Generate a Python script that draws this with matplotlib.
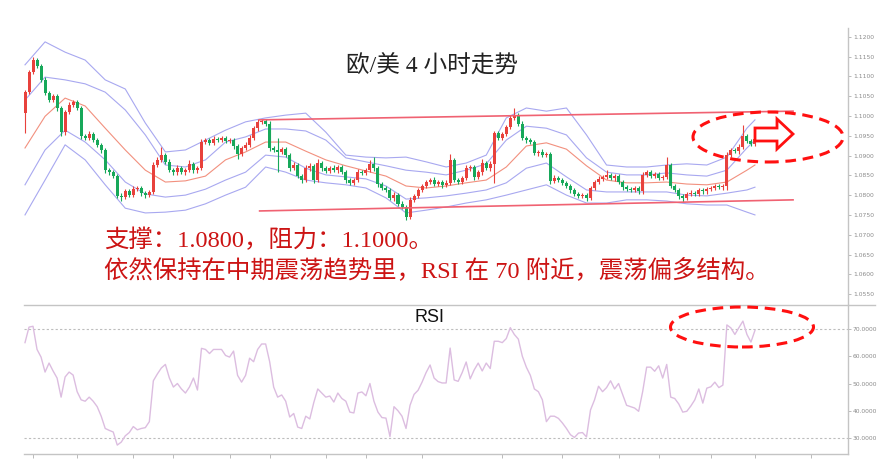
import matplotlib
matplotlib.use("Agg")
import matplotlib.pyplot as plt
from matplotlib.patches import Ellipse, Polygon
from matplotlib.lines import Line2D
import numpy as np

# ---- data (EUR/USD, 4h candles) ----
first_open = 1.1007
closes = [
    1.1060, 1.1111, 1.1141, 1.1126, 1.1091, 1.1058, 1.1040, 1.1050, 1.1020, 1.0959,
    1.1010, 1.1028, 1.1035, 1.1020, 1.0949, 1.0944, 1.0954, 1.0939, 1.0927, 1.0914,
    1.0863, 1.0858, 1.0848, 1.0798, 1.0795, 1.0810, 1.0800, 1.0815, 1.0818, 1.0805,
    1.0800, 1.0808, 1.0876, 1.0889, 1.0901, 1.0884, 1.0863, 1.0858, 1.0868, 1.0858,
    1.0863, 1.0879, 1.0863, 1.0868, 1.0934, 1.0939, 1.0932, 1.0942, 1.0939, 1.0944,
    1.0937, 1.0939, 1.0924, 1.0904, 1.0919, 1.0927, 1.0944, 1.0969, 1.0985, 1.0987,
    1.0980, 1.0919, 1.0914, 1.0909, 1.0916, 1.0901, 1.0868, 1.0876, 1.0848, 1.0838,
    1.0868, 1.0874, 1.0838, 1.0881, 1.0868, 1.0861, 1.0868, 1.0863, 1.0871, 1.0858,
    1.0838, 1.0831, 1.0838, 1.0858, 1.0856, 1.0863, 1.0879, 1.0868, 1.0828, 1.0818,
    1.0813, 1.0793, 1.0800, 1.0778, 1.0770, 1.0745, 1.0788, 1.0798, 1.0813, 1.0823,
    1.0833, 1.0838, 1.0828, 1.0833, 1.0826, 1.0831, 1.0889, 1.0838, 1.0833, 1.0843,
    1.0868, 1.0871, 1.0846, 1.0858, 1.0881, 1.0868, 1.0879, 1.0957, 1.0944, 1.0954,
    1.0972, 1.0995, 1.1002, 1.0980, 1.0944, 1.0939, 1.0934, 1.0906, 1.0909, 1.0901,
    1.0904, 1.0836, 1.0843, 1.0838, 1.0831, 1.0823, 1.0813, 1.0803, 1.0798, 1.0800,
    1.0793, 1.0818, 1.0833, 1.0841, 1.0846, 1.0851, 1.0843, 1.0848, 1.0833, 1.0820,
    1.0815, 1.0813, 1.0818, 1.0810, 1.0851, 1.0858, 1.0848, 1.0853, 1.0843, 1.0846,
    1.0876, 1.0823, 1.0813, 1.0798, 1.0793, 1.0803, 1.0805, 1.0803, 1.0813, 1.0810,
    1.0815, 1.0818, 1.0823, 1.0820, 1.0823, 1.0901, 1.0914, 1.0911, 1.0922, 1.0949,
    1.0937, 1.0929, 1.0942,
]
# wick lengths in pips above / below the body
wick_up = [
    6, 5, 8, 4, 5, 6, 5, 6, 5, 6,  5, 6, 4, 5, 6, 5, 8, 5, 6, 5,
    6, 5, 6, 5, 8, 6, 5, 7, 6, 5,  6, 5, 8, 6, 20, 5, 6, 5, 8, 5,
    6, 10, 5, 6, 8, 6, 5, 7, 5, 6,  5, 6, 5, 6, 5, 6, 7, 6, 8, 6,
    5, 6, 5, 30, 6, 5, 6, 8, 5, 6,  7, 6, 5, 10, 6, 5, 6, 8, 5, 6,
    5, 6, 5, 8, 6, 5, 10, 16, 5, 6,  5, 6, 8, 5, 6, 5, 6, 5, 6, 5,
    6, 5, 8, 6, 5, 6, 14, 5, 6, 5,  8, 6, 5, 6, 10, 5, 6, 5, 6, 5,
    6, 8, 18, 5, 6, 5, 6, 5, 6, 8,  5, 6, 8, 5, 6, 5, 6, 5, 6, 5,
    6, 5, 6, 8, 5, 12, 6, 5, 6, 5,  6, 5, 6, 5, 8, 6, 5, 6, 5, 6,
    20, 5, 6, 5, 6, 5, 8, 6, 5, 6,  5, 6, 5, 6, 5, 8, 6, 5, 6, 28,
    6, 5, 8,
]
wick_dn = [
    50, 5, 6, 5, 6, 5, 6, 5, 8, 10,  6, 5, 6, 5, 8, 6, 5, 6, 5, 8,
    6, 8, 5, 6, 10, 6, 5, 6, 5, 6,  8, 6, 5, 6, 5, 6, 5, 8, 6, 5,
    6, 5, 8, 6, 5, 6, 5, 6, 5, 6,  6, 5, 8, 12, 6, 5, 6, 5, 6, 5,
    6, 8, 6, 50, 5, 6, 8, 5, 6, 8,  5, 6, 8, 5, 6, 5, 6, 5, 6, 5,
    8, 6, 5, 6, 5, 6, 5, 6, 8, 6,  6, 5, 8, 6, 5, 8, 6, 5, 6, 5,
    5, 6, 5, 6, 8, 6, 5, 6, 5, 6,  5, 6, 8, 5, 6, 5, 6, 48, 5, 6,
    5, 6, 5, 6, 5, 8, 6, 5, 6, 5,  6, 8, 5, 6, 5, 6, 8, 6, 5, 6,
    8, 5, 6, 5, 6, 5, 6, 8, 5, 6,  5, 6, 5, 8, 6, 5, 6, 5, 6, 5,
    6, 5, 6, 8, 10, 6, 5, 6, 5, 6,  6, 5, 6, 5, 8, 10, 6, 5, 6, 5,
    6, 5, 6,
]

# bollinger bands read every 5 candles
band_idx = list(range(0, 181, 5)) + [182]
band_ou = [1.1129, 1.1187, 1.1161, 1.1141, 1.1091, 1.1068, 1.0982, 1.0909, 1.0914, 1.0939,
           1.0964, 1.0985, 1.0995, 1.1002, 1.1007, 1.0959, 1.0901, 1.0896, 1.0894, 1.0896,
           1.0884, 1.0871, 1.0881, 1.0901, 1.0995, 1.1020, 1.1012, 1.1020, 1.0952, 1.0876,
           1.0871, 1.0871, 1.0876, 1.0879, 1.0876, 1.0896, 1.0969, 1.0990]
band_iu = [1.1040, 1.1098, 1.1091, 1.1081, 1.1060, 1.1015, 1.0952, 1.0876, 1.0871, 1.0889,
           1.0934, 1.0947, 1.0967, 1.0967, 1.0962, 1.0939, 1.0894, 1.0884, 1.0874, 1.0863,
           1.0858, 1.0851, 1.0863, 1.0879, 1.0939, 1.0974, 1.0969, 1.0952, 1.0894, 1.0858,
           1.0851, 1.0851, 1.0856, 1.0851, 1.0848, 1.0863, 1.0919, 1.0939]
band_mid = [1.0919, 1.0999, 1.1045, 1.1025, 1.0969, 1.0914, 1.0863, 1.0833, 1.0836, 1.0848,
            1.0889, 1.0909, 1.0934, 1.0934, 1.0911, 1.0889, 1.0874, 1.0861, 1.0848, 1.0823,
            1.0818, 1.0823, 1.0831, 1.0838, 1.0871, 1.0924, 1.0932, 1.0916, 1.0874, 1.0838,
            1.0831, 1.0831, 1.0833, 1.0828, 1.0826, 1.0833, 1.0863, 1.0876]
band_il = [1.0826, 1.0914, 1.0964, 1.0934, 1.0889, 1.0833, 1.0803, 1.0795, 1.0800, 1.0815,
           1.0838, 1.0858, 1.0901, 1.0896, 1.0868, 1.0851, 1.0846, 1.0841, 1.0823, 1.0790,
           1.0793, 1.0798, 1.0805, 1.0813, 1.0831, 1.0868, 1.0881, 1.0846, 1.0813, 1.0808,
           1.0808, 1.0808, 1.0808, 1.0800, 1.0798, 1.0805, 1.0813, 1.0820]
band_ol = [1.0750, 1.0838, 1.0927, 1.0889, 1.0826, 1.0767, 1.0755, 1.0757, 1.0762, 1.0778,
           1.0800, 1.0820, 1.0871, 1.0858, 1.0838, 1.0831, 1.0826, 1.0818, 1.0793, 1.0755,
           1.0762, 1.0770, 1.0780, 1.0788, 1.0800, 1.0813, 1.0826, 1.0800, 1.0780, 1.0780,
           1.0788, 1.0788, 1.0785, 1.0778, 1.0775, 1.0775, 1.0757, 1.0750]

# channel lines drawn on the chart
chan_x = [58.5, 191.5]
res_y = [1.0990, 1.1012]
sup_y = [1.0760, 1.0788]

rsi = [
    65, 70.7, 71, 62.5, 59.7, 54.2, 57.5, 54.6, 52, 45,
    52.4, 54.2, 53.1, 47, 44, 43.5, 45, 43.5, 41.5, 38,
    33.5, 32.8, 32.2, 27.4, 28.5, 30.8, 32, 34.2, 33, 33.5,
    33.8, 36, 51, 53.5, 55.7, 57, 52, 48.7, 50, 48,
    46.5, 48.7, 52, 47.6, 62.9, 62.5, 61, 62.5, 62.5, 62.5,
    60.3, 59.7, 61.9, 53, 50.5, 53, 59.3, 58, 62.5, 64.5,
    64.5, 58, 48.7, 45, 45.8, 43.5, 37.7, 39, 34, 33.5,
    38, 37, 43, 48, 46.5, 45, 45.4, 43.2, 46.5, 44.5,
    43.5, 39.5, 39.2, 46.5, 46.9, 45.5, 50, 43.5, 39.5, 37.5,
    37.3, 30.5, 41.5, 40, 38, 33.5, 42, 46, 47.5, 50.5,
    54, 56.8, 52, 50.7, 50.2, 50.2, 63, 51.3, 50.8, 54,
    57.9, 51.7, 55, 57.5, 54.6, 57.5, 55.5, 65.5, 65.5, 65,
    66.5, 70.5, 68, 66.3, 60, 56, 53, 48, 47, 44,
    36, 38, 38, 37.2, 35.5, 33.5, 31.2, 30.2, 31.8, 32,
    30.4, 40.3, 44, 49, 47, 48.5, 51, 48, 50, 46,
    42, 41.5, 41, 39.8, 47, 56, 56, 54.5, 56.5, 52,
    57, 45, 44.5, 42.5, 39.5, 39.8, 41.7, 44, 48, 42.8,
    48.3, 48.8, 50.5, 48.5, 49.4, 71.5, 70.4, 68, 70.5, 72.9,
    68, 65.2, 69.5,
]
date_ticks = [2, 13, 27, 37, 51, 61, 75, 85, 99, 119, 134, 148, 158, 171, 182, 196]
price_ticks = [1.055, 1.060, 1.065, 1.070, 1.075, 1.080, 1.085, 1.090, 1.095,
               1.100, 1.105, 1.110, 1.115, 1.120]
rsi_ticks = [30, 40, 50, 60, 70]

title = "欧/美 4 小时走势"
note1 = "支撑：1.0800，阻力：1.1000。"
note2 = "依然保持在中期震荡趋势里，RSI 在 70 附近，震荡偏多结构。"

W, H = 885, 463


def px(x, y):
    # pixel position of the reference picture -> figure fraction
    return x / W, 1 - y / H


fig = plt.figure(figsize=(W / 100, H / 100), dpi=100)
ax = fig.add_axes([24 / W, 1 - 305 / H, 824 / W, 277 / H])
ax2 = fig.add_axes([24 / W, 1 - 454 / H, 824 / W, 149 / H])

red = "#e8413c"
green = "#17a85a"
blue = "#a8a8f0"

o = np.array([first_open] + closes[:-1])
c = np.array(closes)
idx = np.arange(len(c))
hi = np.maximum(o, c) + np.array(wick_up) * 0.0001
lo = np.minimum(o, c) - np.array(wick_dn) * 0.0001
cols = np.where(c >= o, red, green)

for band in (band_ou, band_iu, band_il, band_ol):
    ax.plot(band_idx, band, color=blue, lw=0.8, zorder=2, solid_joinstyle="round")
ax.plot(band_idx, band_mid, color="#f2907e", lw=0.8, zorder=2, solid_joinstyle="round")

ax.vlines(idx, lo, hi, colors=cols, lw=0.8, zorder=3)
ax.bar(idx, np.maximum(np.abs(c - o), 0.00008), bottom=np.minimum(o, c),
       width=0.75, color=cols, linewidth=0, zorder=4)

ax.plot(chan_x, res_y, color="#f06272", lw=1.2, zorder=5)
ax.plot(chan_x, sup_y, color="#f06272", lw=1.2, zorder=5)

ax.set_xlim(-0.25, 205.2)
ax.set_ylim(1.05225, 1.1222)
ax.yaxis.tick_right()
ax.set_yticks(price_ticks)
ax.set_yticklabels([f"{v:.4f}" for v in price_ticks])
ax.set_xticks([])
ax.tick_params(axis="y", direction="out", length=2, width=0.6, color="#b0b0b0",
               labelsize=4.3, labelcolor="#8a8a8a", pad=1.5)
for s in ("top", "left", "bottom"):
    ax.spines[s].set_visible(False)
ax.spines["right"].set_color("#c4c4c4")
ax.spines["right"].set_linewidth(1.0)

# RSI panel
ax2.plot(idx, rsi, color="#dcbde0", lw=1.0, zorder=3)
ax2.axhline(70, color="#bdbdbd", lw=0.8, ls=(0, (2, 2)), zorder=1)
ax2.axhline(30, color="#bdbdbd", lw=0.8, ls=(0, (2, 2)), zorder=1)
ax2.set_xlim(-0.25, 205.2)
ax2.set_ylim(24.13, 78.81)
ax2.yaxis.tick_right()
ax2.set_yticks(rsi_ticks)
ax2.set_yticklabels([f"{v:.4f}" for v in rsi_ticks])
ax2.set_xticks(date_ticks)
ax2.set_xticklabels([])
ax2.tick_params(axis="y", direction="out", length=2, width=0.6, color="#b0b0b0",
                labelsize=4.3, labelcolor="#8a8a8a", pad=1.5)
ax2.tick_params(axis="x", direction="out", length=3, width=0.6, color="#b0b0b0")
ax2.spines["left"].set_visible(False)
ax2.spines["top"].set_visible(False)
for s in ("right", "bottom"):
    ax2.spines[s].set_color("#c4c4c4")
    ax2.spines[s].set_linewidth(1.0)

# separator between the panels, running past the price scale
fig.add_artist(Line2D([24 / W, 875 / W], [1 - 305 / H] * 2, transform=fig.transFigure,
                      color="#c4c4c4", lw=1.0))

# annotations
e1 = Ellipse(px(768, 137), 150 / W, 50 / H, transform=fig.transFigure, fill=False,
             edgecolor="#ff1010", lw=2.2, ls=(0, (3.5, 2.2)), zorder=10)
e2 = Ellipse(px(742, 327), 143 / W, 40 / H, transform=fig.transFigure, fill=False,
             edgecolor="#ff1010", lw=2.2, ls=(0, (3.5, 2.2)), zorder=10)
fig.add_artist(e1)
fig.add_artist(e2)
arrow_pts = [px(755, 128), px(777, 128), px(777, 119), px(793, 134),
             px(777, 149), px(777, 141), px(755, 141)]
fig.add_artist(Polygon(arrow_pts, closed=True, transform=fig.transFigure,
                       facecolor="white", edgecolor="#ff1010", lw=2.0, zorder=10))

cjk = ["Liberation Serif", "Noto Sans CJK SC"]
fig.text(*px(432, 66), title, ha="center", va="center", fontsize=17,
         family=cjk, color="#222222")
fig.text(*px(104, 240), note1, ha="left", va="center", fontsize=17.6,
         family=cjk, color="#cc1414")
fig.text(*px(104, 270), note2, ha="left", va="center", fontsize=17.6,
         family=cjk, color="#cc1414")
fig.text(*px(430, 318), "RSI", ha="center", va="center", fontsize=13,
         family="Liberation Sans", color="#111111")

fig.savefig("out.png", dpi=100)
